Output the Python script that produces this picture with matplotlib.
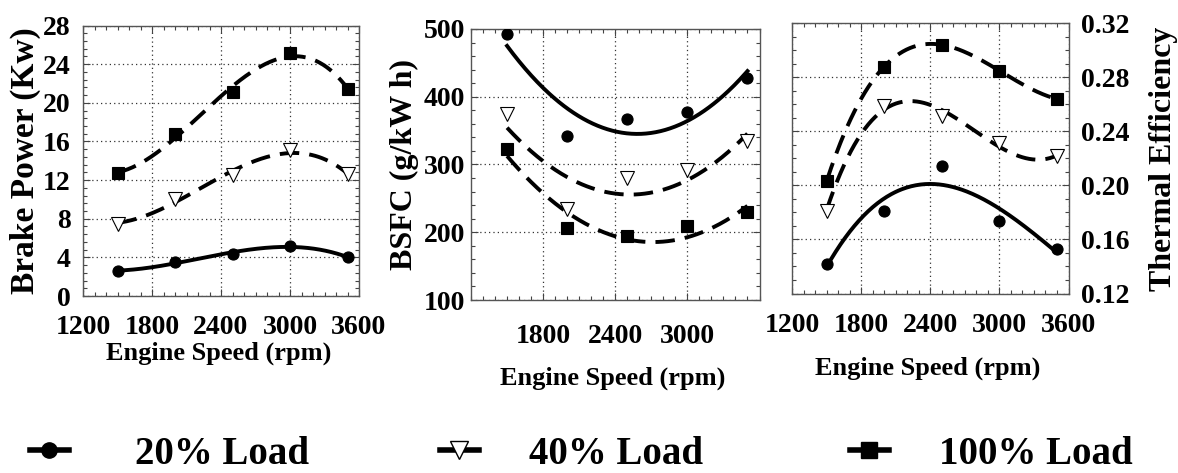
import numpy as np
import matplotlib
matplotlib.use("Agg")
import matplotlib.pyplot as plt
from matplotlib.ticker import MultipleLocator, FixedLocator, FormatStrFormatter
from matplotlib.lines import Line2D

plt.rcParams['font.family'] = ['Liberation Serif', 'DejaVu Serif']
plt.rcParams['font.weight'] = 'bold'

# ---------------- data ----------------
speed = [1500, 2000, 2500, 3000, 3500]
loads = ['20% Load', '40% Load', '100% Load']

bp_20 = [2.6, 3.5, 4.35, 5.2, 4.0]
bp_40 = [7.5, 10.0, 12.5, 15.1, 12.6]
bp_100 = [12.7, 16.75, 21.1, 25.2, 21.4]

bsfc_20 = [492, 342, 367, 377, 428]
bsfc_40 = [374, 234, 280, 292, 334]
bsfc_100 = [323, 207, 194, 209, 230]

te_20 = [0.142, 0.181, 0.2145, 0.1735, 0.1526]
te_40 = [0.181, 0.259, 0.2516, 0.2314, 0.2215]
te_100 = [0.203, 0.288, 0.304, 0.285, 0.264]

xticks_full = [1200, 1800, 2400, 3000, 3600]
xticks_mid = [1800, 2400, 3000]

# ---------------- styles ----------------
markers = ['o', 'v', 's']
mfaces = ['black', 'white', 'black']
msizes = [8, 9.5, 8]
lstyles = ['-', (0, (5, 2.6)), (0, (5, 2.6))]
LW = 2.8
TICK_FS = 20
XLAB_FS = 19

W, H = 1178, 473
fig = plt.figure(figsize=(W / 100, H / 100), dpi=100)


def px_axes(l, r, t, b):
    return fig.add_axes([l / W, 1 - b / H, (r - l) / W, (b - t) / H])


ax1 = px_axes(83, 359, 25.5, 296)
ax2 = px_axes(471, 759.5, 29, 300)
ax3 = px_axes(792, 1068.5, 23.3, 293.5)


def draw(ax, series, deg):
    xs = np.array(speed, dtype=float)
    xf = np.linspace(xs.min(), xs.max(), 200)
    for i, ys in enumerate(series):
        coef = np.polyfit(xs, np.array(ys, dtype=float), deg)
        ax.plot(xf, np.polyval(coef, xf), color='black', lw=LW,
                linestyle=lstyles[i], zorder=3)
        ax.plot(xs, ys, linestyle='none', marker=markers[i],
                mfc=mfaces[i], mec='black', mew=0.8, ms=msizes[i], zorder=4)


def style(ax, xt, ymaj, ymin, xpad):
    ax.set_xlim(1200, 3600)
    ax.xaxis.set_major_locator(FixedLocator(xt))
    ax.xaxis.set_minor_locator(MultipleLocator(100))
    ax.yaxis.set_major_locator(MultipleLocator(ymaj))
    ax.yaxis.set_minor_locator(MultipleLocator(ymin))
    ax.tick_params(which='both', direction='in', top=True, right=True,
                   colors='#444444', labelcolor='black')
    ax.tick_params(which='major', length=5, width=0.8, labelsize=TICK_FS)
    ax.tick_params(which='minor', length=3, width=0.8)
    ax.tick_params(axis='x', pad=xpad)
    ax.grid(True, which='major', linestyle=(0, (1, 2.5)), color='#333333', lw=0.9)
    for s in ax.spines.values():
        s.set_color('#555555')
        s.set_linewidth(1.0)
    for lab in ax.get_xticklabels() + ax.get_yticklabels():
        lab.set_fontweight('bold')


draw(ax1, [bp_20, bp_40, bp_100], 3)
ax1.set_ylim(0, 28)
style(ax1, xticks_full, 4, 0.8, 14)
ax1.tick_params(axis='y', pad=9)
ax1.set_xlabel('Engine Speed (rpm)', fontsize=XLAB_FS, fontweight='bold')
ax1.xaxis.set_label_coords(0.49, -0.17)
ax1.set_ylabel('Brake Power (Kw)', fontsize=24, fontweight='bold', labelpad=1)

draw(ax2, [bsfc_20, bsfc_40, bsfc_100], 2)
ax2.set_ylim(100, 500)
style(ax2, xticks_mid, 100, 20, 17)
ax2.tick_params(axis='y', pad=4)
ax2.set_xlabel('Engine Speed (rpm)', fontsize=XLAB_FS, fontweight='bold')
ax2.xaxis.set_label_coords(0.49, -0.247)
ax2.set_ylabel('BSFC (g/kW h)', fontsize=23, fontweight='bold', labelpad=4)

draw(ax3, [te_20, te_40, te_100], 3)
ax3.set_ylim(0.12, 0.32)
style(ax3, xticks_full, 0.04, 0.01, 13.7)
ax3.yaxis.tick_right()
ax3.tick_params(which='both', left=True, right=True)
ax3.tick_params(axis='y', pad=9)
ax3.yaxis.set_major_formatter(FormatStrFormatter('%.2f'))
ax3.yaxis.set_label_position('right')
ax3.set_xlabel('Engine Speed (rpm)', fontsize=XLAB_FS, fontweight='bold')
ax3.xaxis.set_label_coords(0.49, -0.235)
ax3.set_ylabel('Thermal Efficiency', fontsize=23, fontweight='bold', labelpad=14)

# legend: three entries placed along the bottom
leg_x = [30, 440, 850]
for i in range(3):
    h = Line2D([], [], color='black', lw=LW + 1.2, linestyle='-', marker=markers[i],
               mfc=mfaces[i], mec='black', ms=msizes[i] + 3)
    fig.legend([h], [loads[i]], loc='center left', frameon=False,
               bbox_to_anchor=(leg_x[i] / W, 1 - 454 / H),
               borderpad=0, borderaxespad=0, handlelength=1.0,
               handletextpad=1.7 if i == 0 else 1.3,
               prop={'weight': 'bold', 'size': 28})

fig.savefig('out.png', dpi=100)
